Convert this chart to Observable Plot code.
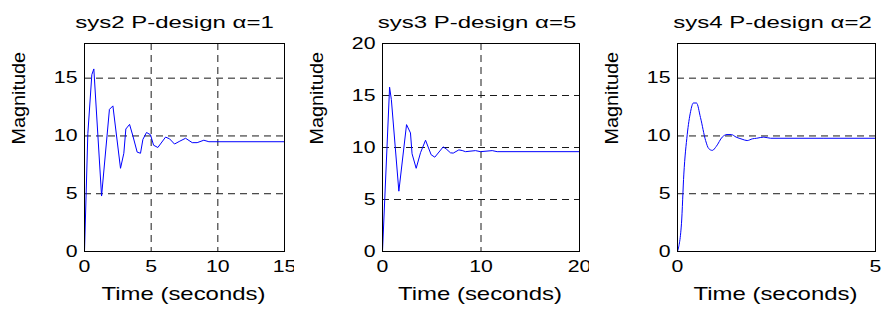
<!DOCTYPE html>
<html><head><meta charset="utf-8">
<script src="https://cdn.jsdelivr.net/npm/d3@7"></script>
<script src="https://cdn.jsdelivr.net/npm/@observablehq/plot@0.6"></script>
<style>
body{margin:0;background:#fff;}
#row{display:flex;width:883px;height:309px;}
#row svg{flex:none;}
</style></head><body><div id="row"></div>
<script>
const titles = ["sys2 P-design α=1", "sys3 P-design α=5", "sys4 P-design α=2"];
const xLabel = "Time (seconds)";
const yLabel = "Magnitude";

const sys2Time = [0, 0.25, 0.55, 0.7, 1.28, 1.87, 2.13, 2.7, 2.95, 3.1, 3.38, 3.63, 3.95, 4.2, 4.38, 4.65, 4.95, 5.18, 5.5, 6.08, 6.38, 6.75, 7.15, 7.58, 8.08, 8.45, 8.95, 9.33, 15];
const sys2Mag  = [0, 10.2, 15.3, 15.8, 4.8, 12.3, 12.6, 7.2, 8.5, 10.6, 11.0, 10.0, 8.6, 8.5, 9.7, 10.3, 10.1, 9.2, 9.0, 9.9, 9.75, 9.3, 9.55, 9.8, 9.42, 9.42, 9.63, 9.5, 9.5];

const sys3Time = [0, 0.72, 0.9, 1.66, 2.44, 2.84, 3.0, 3.42, 3.86, 4.37, 4.94, 5.31, 6.16, 6.46, 6.9, 7.18, 7.75, 8.09, 8.43, 9.44, 9.95, 11.14, 11.64, 20];
const sys3Mag  = [0, 15.8, 14.6, 5.8, 12.2, 11.4, 9.4, 8.0, 9.5, 10.7, 9.3, 9.07, 10.06, 9.87, 9.49, 9.46, 9.77, 9.71, 9.6, 9.7, 9.6, 9.7, 9.6, 9.6];

const sys4Time = [0, 0.1, 0.16, 0.245, 0.33, 0.4, 0.48, 0.58, 0.71, 0.79, 0.88, 0.98, 1.13, 1.25, 1.36, 1.48, 1.63, 1.76, 1.89, 2.0, 2.18, 2.35, 5];
const sys4Mag  = [0, 2.4, 6.7, 10.1, 12.1, 12.85, 12.85, 11.6, 9.6, 8.9, 8.75, 9.1, 9.9, 10.12, 10.12, 9.9, 9.72, 9.6, 9.75, 9.8, 9.9, 9.8, 9.8];

const xDomains = [[0, 15], [0, 20], [0, 5]];
const yDomains = [[0, 18], [0, 20], [0, 18]];
const xTicks = [[0, 5, 10, 15], [0, 10, 20], [0, 5]];
const yTicks = [[0, 5, 10, 15], [0, 5, 10, 15, 20], [0, 5, 10, 15]];

const series = [[sys2Time, sys2Mag], [sys3Time, sys3Mag], [sys4Time, sys4Mag]];
const curves = ["linear", "linear", "monotone-x"];

// layout
const panelWidths = [294, 295, 294];
const marginLefts = [84, 88, 88];
const marginRights = [10, 10, 8];
const titleDx = [-10, -4, -4];
const FONT = '"Liberation Sans", Arial, Helvetica, sans-serif';
const gridStyle = {stroke: "#1a1a1a", strokeOpacity: 1, strokeWidth: 1, strokeDasharray: "7,5"};

function stretchAll(svg, p) {
  svg.querySelectorAll("text").forEach(t => {
    const s = t.textContent;
    let sx = 1.33;
    if (s === titles[p]) sx = 1.5;
    else if (s === yLabel) sx = 1.1;
    const tr = t.getAttribute("transform") || "";
    t.setAttribute("transform", tr + ` scale(${sx},1)`);
  });
}

const row = document.getElementById("row");
for (let p = 0; p < 3; p++) {
  const [T, M] = series[p];
  const data = T.map((t, i) => ({t, m: M[i]}));
  const xd = xDomains[p], yd = yDomains[p];
  const xGrid = xTicks[p].filter(v => v > xd[0] && v < xd[1]);
  const yGrid = yTicks[p].filter(v => v > yd[0] && v < yd[1]);
  const svg = Plot.plot({
    width: panelWidths[p], height: 309,
    marginTop: 43, marginBottom: 58, marginLeft: marginLefts[p], marginRight: marginRights[p],
    style: {fontFamily: FONT, fontSize: "16px", background: "white", color: "black", overflow: "visible"},
    x: {domain: xd, label: null},
    y: {domain: yd, label: null},
    marks: [
      Plot.gridY(yGrid, gridStyle),
      Plot.gridX(xGrid, gridStyle),
      Plot.axisX(xTicks[p], {tickSize: 0, tickPadding: 9, fontSize: 16, label: null}),
      Plot.axisY(yTicks[p], {tickSize: 0, tickPadding: 7, fontSize: 16, label: null}),
      Plot.line(data, {x: "t", y: "m", stroke: "#0000ff", strokeWidth: 1, curve: curves[p]}),
      Plot.frame({stroke: "black"}),
      Plot.text([titles[p]], {text: d => d, frameAnchor: "top", lineAnchor: "bottom", dy: -16, dx: titleDx[p], fontSize: 16}),
      Plot.text([xLabel], {text: d => d, frameAnchor: "bottom", lineAnchor: "bottom", dy: 48, dx: -1, fontSize: 18}),
      Plot.text([yLabel], {text: d => d, frameAnchor: "left", rotate: -90, dx: -65, dy: -3, fontSize: 18})
    ]
  });
  stretchAll(svg, p);
  row.appendChild(svg);
}
</script></body></html>
